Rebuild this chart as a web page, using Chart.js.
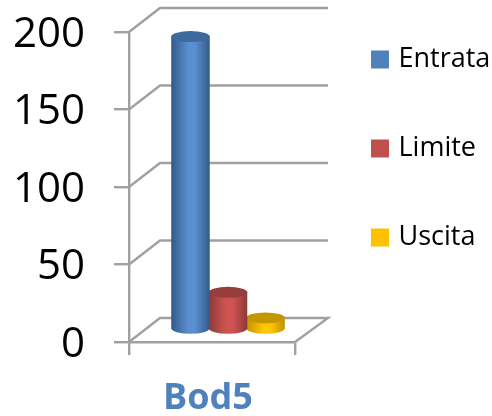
<!DOCTYPE html>
<html><head><meta charset="utf-8">
<style>html,body{margin:0;padding:0;background:#fff}#w{width:492px;height:416px}</style>
<script src="https://cdn.jsdelivr.net/npm/chart.js@4"></script>
</head><body><div id="w"><canvas id="c" width="492" height="416"></canvas></div>
<script>
const categories = ["Bod5"];
const seriesNames = ["Entrata", "Limite", "Uscita"];
const entrata = [189];
const limite = [24];
const uscita = [7.5];
const yTicks = [0, 50, 100, 150, 200];
const legendColors = ["#4F81BD", "#C0504D", "#FFC000"];
const shades = [
  {edge:"#33598a", mid:"#5b8fd0", cap:"#3c6a9e"},
  {edge:"#8a3a37", mid:"#cf5451", cap:"#953e3b"},
  {edge:"#c29100", mid:"#ffc800", cap:"#c49600"}
];
const GRID = "#A0A0A0";
const wallDx = 31, wallDy = -24, barDx = 16, barDy = -12.5, capRy = 5.5;

const scene3d = {
  id: "scene3d",
  beforeLayout(chart) {
    const lg = chart.legend;
    if (!lg._fixed) {
      const orig = lg.fit;
      lg.fit = function () { orig.call(this); this.width = 197; };
      lg._fixed = true;
    }
  },
  afterLayout(chart) {
    chart.legend.left = 313;
    chart.legend.right = 492;
    chart.legend.top = -16;
  },
  beforeDatasetsDraw(chart) {
    const {ctx, scales:{x, y}} = chart;
    const l = x.left, r = x.right;
    ctx.save();
    ctx.strokeStyle = GRID; ctx.lineWidth = 2.4;
    yTicks.forEach(v => {
      const p = y.getPixelForValue(v);
      ctx.beginPath();
      ctx.moveTo(l, p); ctx.lineTo(l + wallDx, p + wallDy); ctx.lineTo(r + wallDx + 2, p + wallDy);
      if (v === 0) ctx.lineTo(r, p);
      ctx.stroke();
    });
    ctx.restore();
  },
  beforeDatasetDraw(chart, args) {
    const {ctx} = chart;
    const s = shades[args.index];
    chart.getDatasetMeta(args.index).data.forEach(b => {
      const cx = b.x + barDx, w = b.width + 1, top = b.y + barDy, base = b.base + barDy;
      const g = ctx.createLinearGradient(cx - w/2, 0, cx + w/2, 0);
      g.addColorStop(0, s.edge); g.addColorStop(0.45, s.mid); g.addColorStop(0.62, s.mid); g.addColorStop(1, s.edge);
      ctx.save();
      ctx.fillStyle = g;
      ctx.beginPath();
      ctx.moveTo(cx - w/2, top);
      ctx.lineTo(cx - w/2, base);
      ctx.ellipse(cx, base, w/2, capRy, 0, Math.PI, 0, true);
      ctx.lineTo(cx + w/2, top);
      ctx.closePath();
      ctx.fill();
      ctx.fillStyle = s.cap;
      ctx.beginPath();
      ctx.ellipse(cx, top, w/2, capRy, 0, 0, Math.PI*2);
      ctx.fill();
      ctx.restore();
    });
    return false;
  }
};

new Chart(document.getElementById("c"), {
  type: "bar",
  data: {
    labels: categories,
    datasets: [
      {label: seriesNames[0], data: entrata, backgroundColor: legendColors[0], borderColor: legendColors[0], borderWidth: 8},
      {label: seriesNames[1], data: limite, backgroundColor: legendColors[1], borderColor: legendColors[1], borderWidth: 8},
      {label: seriesNames[2], data: uscita, backgroundColor: legendColors[2], borderColor: legendColors[2], borderWidth: 8}
    ]
  },
  options: {
    responsive: false, animation: false,
    layout: {padding: {top:32, left:0, right:0, bottom:0}},
    categoryPercentage: 0.678, barPercentage: 1,
    scales: {
      x: {
        afterFit(s){ s.height = 74; s.paddingLeft = 0; s.paddingRight = 0; },
        grid: {drawOnChartArea:false, drawTicks:true, tickLength:13, color:GRID, lineWidth:2.4},
        border: {color:GRID, width:2.4},
        ticks: {color:"#4F81BD", font:{family:"Open Sans", size:36, weight:"bold"}, padding:22, labelOffset:-4}
      },
      y: {
        min:0, max:200,
        afterFit(s){ s.width = 129; s.paddingTop = 0; s.paddingBottom = 0; },
        afterBuildTicks(s){ s.ticks = yTicks.map(v => ({value:v})); },
        grid: {drawOnChartArea:false, drawTicks:true, tickLength:15, color:GRID, lineWidth:2.4},
        border: {color:GRID, width:2.4},
        ticks: {color:"#000", font:{family:"Open Sans", size:42}, padding:29, labelOffset:3}
      }
    },
    plugins: {
      title: {display:false},
      tooltip: {enabled:false},
      legend: {
        position:"right", align:"start",
        labels: {
          boxWidth:10, boxHeight:10, padding:62,
          color:"#000", font:{family:"Open Sans", size:27}
        }
      }
    }
  },
  plugins: [scene3d]
});
</script></body></html>
